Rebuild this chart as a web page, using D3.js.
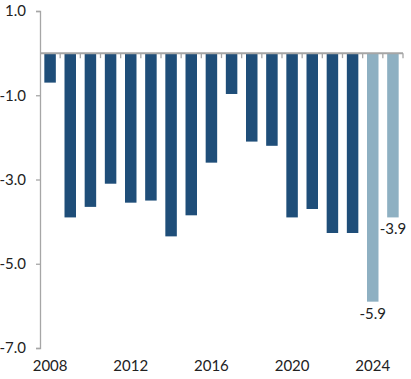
<!DOCTYPE html>
<html>
<head>
<meta charset="utf-8">
<script src="https://cdn.jsdelivr.net/npm/d3@7"></script>
<style>
  html, body { margin: 0; padding: 0; background: #fff; }
  svg { display: block; }
  text { font-family: Lato, "Open Sans", sans-serif; fill: #222; }
</style>
</head>
<body>
<svg id="chart" width="411" height="379"></svg>
<script>
const years = [2008, 2009, 2010, 2011, 2012, 2013, 2014, 2015, 2016, 2017, 2018, 2019, 2020, 2021, 2022, 2023, 2024, 2025];
const values = [-0.7, -3.9, -3.65, -3.1, -3.55, -3.5, -4.35, -3.85, -2.6, -0.97, -2.1, -2.2, -3.9, -3.7, -4.27, -4.27, -5.9, -3.9];
const forecastYears = [2024, 2025];
const labelledYears = [2024, 2025];
const xTickLabels = [2008, 2012, 2016, 2020, 2024];
const yTicks = [1.0, -1.0, -3.0, -5.0, -7.0];

const darkColor = "#1f4e79";
const lightColor = "#8eb0c2";
const axisColor = "#a6a6a6";

const svg = d3.select("#chart");
const mLeft = 40, mRight = 403, mTop = 11, mBottom = 348;

const x = d3.scaleBand().domain(years).range([mLeft, mRight]).paddingInner(0.43).paddingOuter(0.215);
const y = d3.scaleLinear().domain([-7, 1]).range([mBottom, mTop]);

// Bars
svg.append("g").selectAll("rect").data(years).join("rect")
  .attr("x", d => x(d))
  .attr("width", x.bandwidth())
  .attr("y", (d, i) => y(Math.max(0, values[i])))
  .attr("height", (d, i) => Math.abs(y(values[i]) - y(0)))
  .attr("fill", d => forecastYears.includes(d) ? lightColor : darkColor);

// Y axis
const yAxis = d3.axisLeft(y).tickValues(yTicks).tickSize(4).tickPadding(10).tickFormat(d3.format(".1f"));
const gy = svg.append("g").attr("transform", `translate(${mLeft},0)`).call(yAxis);
gy.select(".domain").attr("stroke", axisColor).attr("stroke-width", 1.3);
gy.selectAll(".tick line").attr("stroke", axisColor).attr("stroke-width", 1.3);
gy.selectAll(".tick text").style("font-size", "15px").attr("fill", "#222")
  .text(d => d3.format(".1f")(d).replace("−", "-"));

// Zero line with ticks at band boundaries
const step = x.step();
const boundaries = d3.range(years.length + 1).map(k => mLeft + k * step);
const g0 = svg.append("g");
g0.append("line").attr("x1", mLeft).attr("x2", mRight).attr("y1", y(0)).attr("y2", y(0))
  .attr("stroke", axisColor).attr("stroke-width", 2);
g0.selectAll("line.tk").data(boundaries.slice(1)).join("line").attr("class", "tk")
  .attr("x1", d => d).attr("x2", d => d)
  .attr("y1", y(0)).attr("y2", y(0) + 5)
  .attr("stroke", axisColor).attr("stroke-width", 1.3);

// X labels at bottom
const xAxis = d3.axisBottom(x).tickValues(xTickLabels).tickSize(0).tickPadding(0);
const gx = svg.append("g").attr("transform", `translate(0,${mBottom + 11.5})`).call(xAxis);
gx.select(".domain").remove();
gx.selectAll(".tick text").style("font-size", "15px").attr("fill", "#222").attr("dy", "0.75em");

// Value labels
svg.append("g").selectAll("text").data(years.filter(d => labelledYears.includes(d))).join("text")
  .attr("x", d => x(d) + x.bandwidth() / 2)
  .attr("y", d => y(values[years.indexOf(d)]) + 17)
  .attr("text-anchor", "middle")
  .style("font-size", "15px")
  .text(d => d3.format(".1f")(values[years.indexOf(d)]).replace("−", "-"));
</script>
</body>
</html>
